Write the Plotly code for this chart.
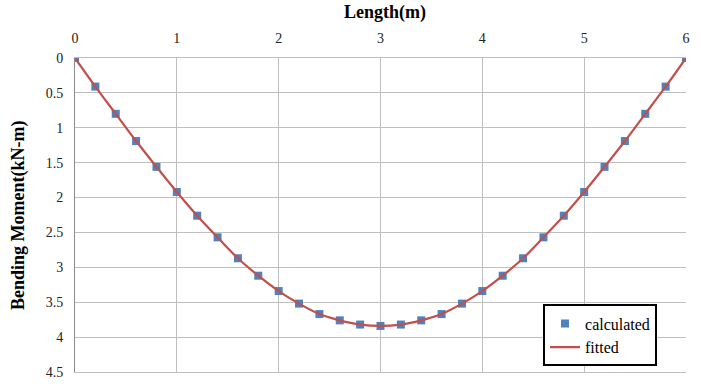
import plotly.graph_objects as go

length_m = [0, 0.2, 0.4, 0.6, 0.8, 1.0, 1.2, 1.4, 1.6, 1.8, 2.0, 2.2, 2.4, 2.6, 2.8, 3.0,
            3.2, 3.4, 3.6, 3.8, 4.0, 4.2, 4.4, 4.6, 4.8, 5.0, 5.2, 5.4, 5.6, 5.8, 6.0]
calculated = [0, 0.41, 0.80, 1.19, 1.56, 1.92, 2.26, 2.57, 2.87, 3.12, 3.34, 3.52, 3.67, 3.76, 3.82, 3.84,
              3.82, 3.76, 3.67, 3.52, 3.34, 3.12, 2.87, 2.57, 2.26, 1.92, 1.56, 1.19, 0.80, 0.41, 0]
fitted = list(calculated)

serif = "'Times New Roman', 'Liberation Serif', serif"

fig = go.Figure()
fig.add_trace(go.Scatter(x=length_m, y=calculated, mode="markers", name="calculated",
                         marker=dict(symbol="square", size=8, color="#4F81BD")))
fig.add_trace(go.Scatter(x=length_m, y=fitted, mode="lines", name="fitted",
                         line=dict(color="#C0504D", width=2.2, shape="spline")))

fig.update_layout(
    width=701, height=384,
    margin=dict(l=75, r=15, t=58, b=12, autoexpand=False),
    paper_bgcolor="white", plot_bgcolor="white",
    font=dict(family=serif, size=14, color="#222"),
    showlegend=True,
    legend=dict(x=0.766, y=0.215, xanchor="left", yanchor="top",
                bordercolor="black", borderwidth=2, bgcolor="white",
                font=dict(family=serif, size=16, color="black"),
                tracegroupgap=0, itemwidth=30),
    annotations=[
        dict(text="<b>Length(m)</b>", xref="paper", yref="paper", x=0.507, y=1.0,
             yshift=46, xanchor="center", yanchor="middle", showarrow=False,
             font=dict(family=serif, size=18, color="black")),
        dict(text="<b>Bending Moment(kN-m)</b>", xref="paper", yref="paper", x=0.0,
             xshift=-57, y=0.5, textangle=-90, xanchor="center", yanchor="middle",
             showarrow=False, font=dict(family=serif, size=18, color="black")),
    ],
)
fig.update_xaxes(side="top", range=[0, 6], dtick=1, showgrid=True, gridcolor="#BFBFBF",
                 gridwidth=1, zeroline=False, showline=True, linecolor="#BFBFBF",
                 ticks="outside", ticklen=8, tickcolor="rgba(0,0,0,0)", automargin=False,
                 tickfont=dict(family=serif, size=14, color="#222"), mirror=True)
fig.update_yaxes(range=[4.5, 0], dtick=0.5, showgrid=True, gridcolor="#BFBFBF",
                 gridwidth=1, zeroline=False, showline=True, linecolor="#8C8C8C",
                 ticks="outside", ticklen=8, tickcolor="rgba(0,0,0,0)", automargin=False,
                 tickfont=dict(family=serif, size=14, color="#222"), mirror=False)

fig.write_html("out.html", config={"displayModeBar": False},
               post_script="document.body.style.margin='0';document.body.style.padding='0';")
